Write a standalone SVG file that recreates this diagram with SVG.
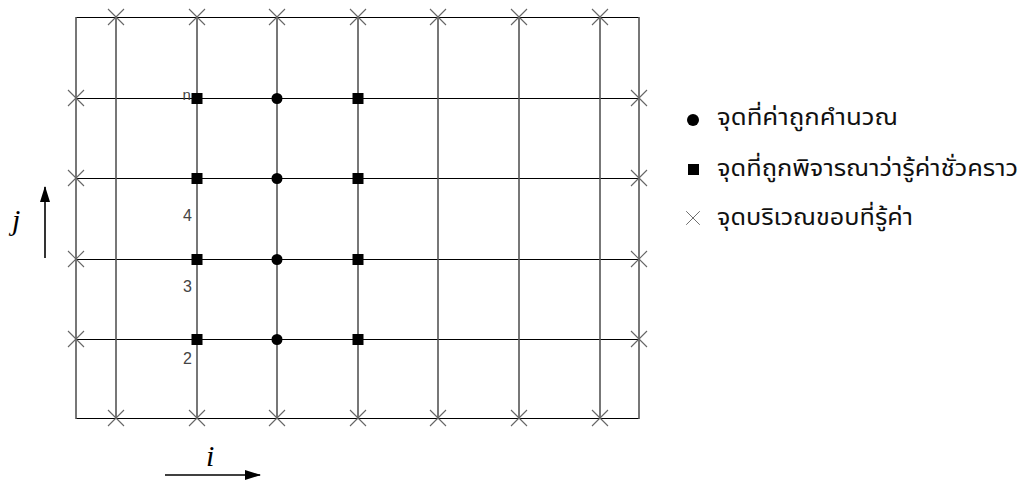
<svg xmlns="http://www.w3.org/2000/svg" width="1029" height="481" viewBox="0 0 1029 481">
<style>
.v{stroke:#555;stroke-width:1.6;fill:none}
.h{stroke:#000;stroke-width:1.2;fill:none}
.x{stroke:#666;stroke-width:1.1;fill:none}
.lab{font-family:"Liberation Sans",Arial,sans-serif;font-size:16px;fill:#444}
.leg{font-family:"Noto Sans Thai","Noto Sans","DejaVu Sans",sans-serif;font-size:23px;fill:#111}
.ax{font-family:"Liberation Serif","Times New Roman",serif;font-style:italic;font-size:30px;fill:#000}
</style>
<defs>
<marker id="ah" markerWidth="16" markerHeight="10" refX="15" refY="5" orient="auto" markerUnits="userSpaceOnUse">
<path d="M0,0 L16,5 L0,10 z" fill="#000"/>
</marker>
<path id="xm" d="M-8,-8 L8,8 M-8,8 L8,-8" class="x"/>
<rect id="sq" x="-5.5" y="-5.5" width="11" height="11" fill="#000"/>
</defs>
<rect fill="#fff" width="1029" height="481"/>
<g id="grid">
<g class="h">
<line x1="76" y1="17.5" x2="639" y2="17.5"/>
<line x1="76" y1="98.5" x2="639" y2="98.5"/>
<line x1="76" y1="178.5" x2="639" y2="178.5"/>
<line x1="76" y1="259.5" x2="639" y2="259.5"/>
<line x1="76" y1="339.5" x2="639" y2="339.5"/>
<line x1="76" y1="418.5" x2="639" y2="418.5"/>
</g>
<g class="v">
<line x1="76" y1="17" x2="76" y2="419"/>
<line x1="116" y1="17" x2="116" y2="419"/>
<line x1="197" y1="17" x2="197" y2="419"/>
<line x1="277" y1="17" x2="277" y2="419"/>
<line x1="358" y1="17" x2="358" y2="419"/>
<line x1="438" y1="17" x2="438" y2="419"/>
<line x1="519" y1="17" x2="519" y2="419"/>
<line x1="600" y1="17" x2="600" y2="419"/>
<line x1="639" y1="17" x2="639" y2="419"/>
</g>
</g>
<g id="boundary">
<use href="#xm" x="116" y="17"/><use href="#xm" x="197" y="17"/><use href="#xm" x="277" y="17"/><use href="#xm" x="358" y="17"/><use href="#xm" x="438" y="17"/><use href="#xm" x="519" y="17"/><use href="#xm" x="600" y="17"/>
<use href="#xm" x="116" y="418"/><use href="#xm" x="197" y="418"/><use href="#xm" x="277" y="418"/><use href="#xm" x="358" y="418"/><use href="#xm" x="438" y="418"/><use href="#xm" x="519" y="418"/><use href="#xm" x="600" y="418"/>
<use href="#xm" x="76" y="98"/><use href="#xm" x="76" y="178"/><use href="#xm" x="76" y="259"/><use href="#xm" x="76" y="339"/>
<use href="#xm" x="639" y="98"/><use href="#xm" x="639" y="178"/><use href="#xm" x="639" y="259"/><use href="#xm" x="639" y="339"/>
</g>
<g id="labels" class="lab">
<text x="182.5" y="100" font-size="15">n</text>
<text x="183" y="221">4</text>
<text x="183" y="292">3</text>
<text x="183" y="364">2</text>
</g>
<g id="temp">
<use href="#sq" x="197" y="98.5"/><use href="#sq" x="197" y="178.5"/><use href="#sq" x="197" y="259.5"/><use href="#sq" x="197" y="339.5"/>
<use href="#sq" x="358" y="98.5"/><use href="#sq" x="358" y="178.5"/><use href="#sq" x="358" y="259.5"/><use href="#sq" x="358" y="339.5"/>
</g>
<g id="computed" fill="#000">
<circle cx="277" cy="98.5" r="5.5"/><circle cx="277" cy="178.5" r="5.5"/><circle cx="277" cy="259.5" r="5.5"/><circle cx="277" cy="339.5" r="5.5"/>
</g>
<g id="axes">
<line x1="45" y1="258" x2="45" y2="187" stroke="#000" stroke-width="1.6" marker-end="url(#ah)"/>
<text class="ax" x="12" y="230">j</text>
<line x1="165" y1="475" x2="260" y2="475" stroke="#000" stroke-width="1.6" marker-end="url(#ah)"/>
<text class="ax" x="206" y="466">i</text>
</g>
<g id="legend">
<circle cx="693" cy="120" r="6" fill="#000"/>
<text class="leg" x="717" y="125" textLength="181" lengthAdjust="spacingAndGlyphs">จุดที่ค่าถูกคำนวณ</text>
<rect x="688" y="164" width="11" height="11" fill="#000"/>
<text class="leg" x="717" y="176" textLength="301" lengthAdjust="spacingAndGlyphs">จุดที่ถูกพิจารณาว่ารู้ค่าชั่วคราว</text>
<use href="#xm" x="693" y="218" transform="translate(693 218) scale(0.85) translate(-693 -218)"/>
<text class="leg" x="717" y="225" textLength="196" lengthAdjust="spacingAndGlyphs">จุดบริเวณขอบที่รู้ค่า</text>
</g>
</svg>
